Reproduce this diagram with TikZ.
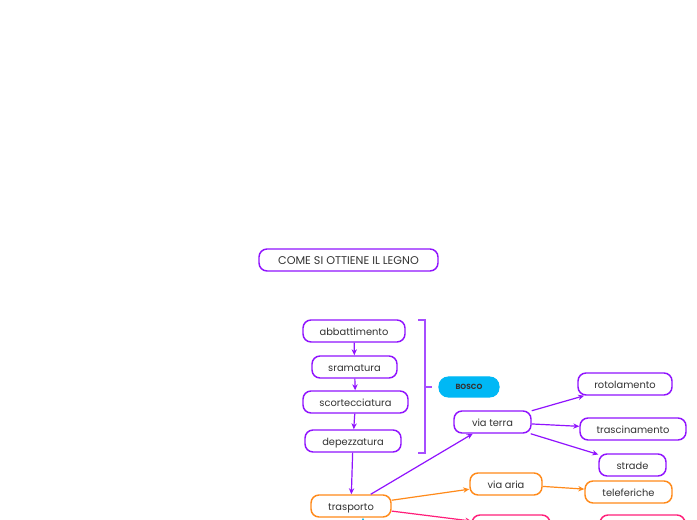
\documentclass[tikz,border=0pt]{standalone}
\usepackage{fontspec}
\setmainfont{Poppins}
\usetikzlibrary{arrows.meta}
\definecolor{pur}{HTML}{9013FE}
\definecolor{pur2}{HTML}{A64DFF}
\definecolor{ora}{HTML}{FF8A1A}
\definecolor{pnk}{HTML}{FF1F7A}
\definecolor{cya}{HTML}{00B8F5}
\definecolor{txt}{HTML}{333333}
\tikzset{
  box/.style={draw=#1, line width=1.1pt, rounded corners=6pt, fill=white,
    minimum height=16.5pt, inner sep=0pt, text=txt, font=\fontsize{7.4}{9}\selectfont,
    text height=7pt, text depth=0.5pt},
  conn/.style={draw=#1, line width=0.9pt, -{Stealth[length=4.5pt,width=4pt]}},
}
\begin{document}
\begin{tikzpicture}[x=0.75pt,y=-0.75pt]
\useasboundingbox[fill=white] (0,0) rectangle (697,520);
% nodes
\node[box=pur, minimum width=134.25pt, font=\fontsize{8.4}{10}\selectfont] (title) at (348.5,260) {COME SI OTTIENE IL LEGNO};
\node[box=pur, minimum width=76.5pt] (abb) at (354,331) {abbattimento};
\node[box=pur, minimum width=63.75pt] (sra) at (354.5,367) {sramatura};
\node[box=pur, minimum width=78.75pt] (sco) at (355.5,402) {scortecciatura};
\node[box=pur, minimum width=72pt] (dep) at (353,441) {depezzatura};
\node[draw=cya, fill=cya, line width=0.8pt, rounded corners=7pt, minimum width=45pt, minimum height=15pt, inner sep=0pt,
  text=txt, font=\bfseries\fontsize{5.6}{7}\selectfont] (bosco) at (469,387) {BOSCO};
\node[box=pur, minimum width=57.75pt] (vt) at (492.5,422) {via terra};
\node[box=pur, minimum width=70.5pt] (rot) at (625,384) {rotolamento};
\node[box=pur, minimum width=79.5pt] (tra) at (633,429) {trascinamento};
\node[box=pur, minimum width=50.25pt] (str) at (632.5,465) {strade};
\node[box=ora, minimum width=54pt] (va) at (506,484) {via aria};
\node[box=ora, minimum width=65.25pt] (tel) at (628.5,492) {teleferiche};
\node[box=ora, minimum width=60pt] (trp) at (351,506) {trasporto};
\node[box=pnk, minimum width=58.5pt] (p1) at (511,526) {};
\node[box=pnk, minimum width=63.75pt] (p2) at (642.5,526) {};
% bracket
\coordinate (b1) at (418,320);
\coordinate (b2) at (425,320);
\coordinate (b3) at (425,453);
\coordinate (b4) at (418,453);
\coordinate (bm) at (425,387);
\coordinate (bt) at (432,387);
\draw[pur2, line width=0.9pt] (b1) -- (b2) -- (b3) -- (b4);
\draw[pur2, line width=0.9pt] (bm) -- (bt);
% connectors
\draw[conn=pur] (abb) -- (sra);
\draw[conn=pur] (sra) -- (sco);
\draw[conn=pur] (sco) -- (dep);
\draw[conn=pur] (dep) -- (trp);
\draw[conn=pur] (trp) -- (vt);
\draw[conn=pur] (vt) -- (rot);
\draw[conn=pur] (vt) -- (tra);
\draw[conn=pur] (vt) -- (str);
\draw[conn=ora] (trp) -- (va);
\draw[conn=ora] (va) -- (tel);
\draw[conn=pnk] (trp) -- (p1);
\coordinate (cin) at (363,560);
\draw[conn=cya] (cin) -- (cin |- trp.south);
\end{tikzpicture}
\end{document}
